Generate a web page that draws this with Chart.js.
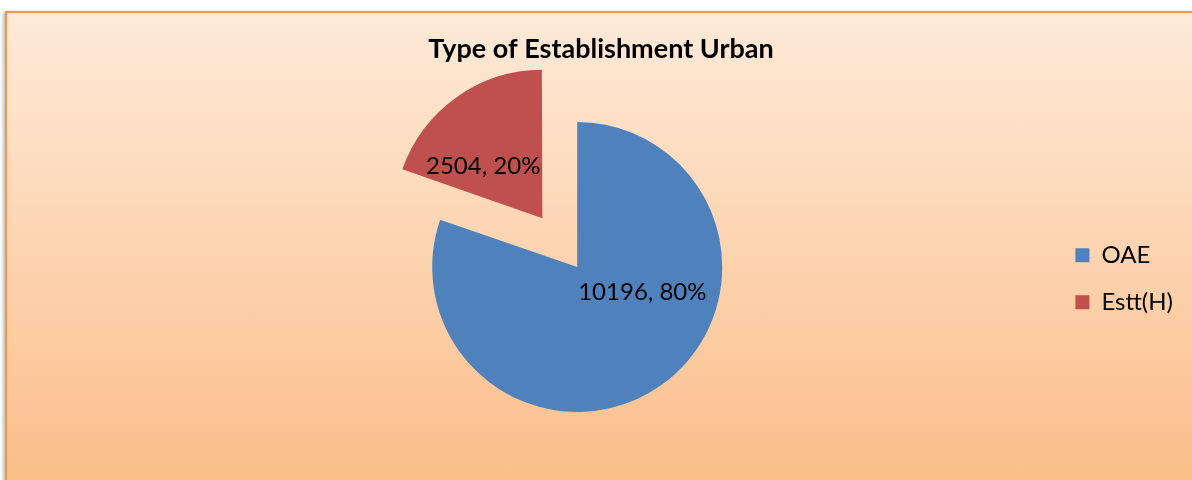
<!DOCTYPE html>
<html>
<head>
<meta charset="utf-8">
<script src="https://cdn.jsdelivr.net/npm/chart.js@4.4.0/dist/chart.umd.min.js"></script>
<style>
  body { margin: 0; background: #fff; overflow: hidden; }
  #marco {
    position: absolute; left: 5px; top: 11px; width: 1200px; height: 480px;
    border: 2px solid #f79646;
    background: linear-gradient(#feead9, #fbbd87);
    box-shadow: -2px 1px 3px rgba(0, 0, 0, 0.25);
  }
  #lienzo { position: absolute; left: 0; top: 0; }
</style>
</head>
<body>
<div id="marco"></div>
<canvas id="lienzo" width="1192" height="480"></canvas>
<script>
const titulo = "Type of Establishment Urban";
const categorias = ["OAE", "Estt(H)"];
const valores = [10196, 2504];
const colores = ["#4f81bd", "#c0504d"];

addEventListener("load", inicio);

function inicio() {
  // titulo centrado sobre todo el marco (no sobre el area del grafico)
  const cabecera = {
    id: "cabecera",
    afterDraw(chart) {
      const ctx = chart.ctx;
      ctx.save();
      ctx.font = "bold 27px Lato";
      ctx.fillStyle = "#000";
      ctx.textAlign = "center";
      ctx.textBaseline = "alphabetic";
      ctx.fillText(titulo, chart.width / 2 + 5, 58);
      ctx.restore();
    },
  };

  // etiquetas "valor, porcentaje" dentro de cada sector
  const etiquetas = {
    id: "etiquetas",
    afterDatasetsDraw(chart) {
      const ctx = chart.ctx;
      const meta = chart.getDatasetMeta(0);
      const total = valores.reduce((a, b) => a + b, 0);
      ctx.save();
      ctx.font = "24px Lato";
      ctx.fillStyle = "#000";
      ctx.textBaseline = "middle";
      meta.data.forEach((arco, i) => {
        const p = arco.getProps(["x", "y", "startAngle", "endAngle", "outerRadius"], true);
        const medio = (p.startAngle + p.endAngle) / 2;
        const off = (arco.options.offset || 0) / 4; // chart.js desplaza offset/4
        const vx = p.x + Math.cos(medio) * off;
        const vy = p.y + Math.sin(medio) * off;
        const derecha = Math.cos(medio) > 0;
        ctx.textAlign = derecha ? "left" : "right";
        const dy = Math.sin(medio) * p.outerRadius * (derecha ? 0.213 : 0.443);
        const pct = Math.round((valores[i] / total) * 100);
        ctx.fillText(valores[i] + ", " + pct + "%", derecha ? vx + 1 : vx - 2, vy + dy);
      });
      ctx.restore();
    },
  };

  const ctx = document.getElementById("lienzo");
  const grafico = new Chart(ctx, {
    type: "pie",
    data: {
      labels: categorias,
      datasets: [
        {
          data: valores,
          backgroundColor: colores,
          borderWidth: 0,
          offset: [0, 240],
          hoverOffset: 0,
        },
      ],
    },
    options: {
      responsive: false,
      animation: false,
      radius: 145,
      layout: {
        padding: { left: 102, right: 9, top: 75, bottom: 21 },
      },
      plugins: {
        title: { display: false },
        legend: {
          position: "right",
          fullSize: false,
          title: { display: true, text: "", font: { size: 13 }, padding: 4 },
          labels: {
            color: "#000",
            font: { family: "Lato", size: 24 },
            boxWidth: 14,
            boxHeight: 14,
            padding: 23,
          },
        },
        tooltip: { enabled: false },
      },
    },
    plugins: [etiquetas, cabecera],
  });
}
</script>
</body>
</html>
